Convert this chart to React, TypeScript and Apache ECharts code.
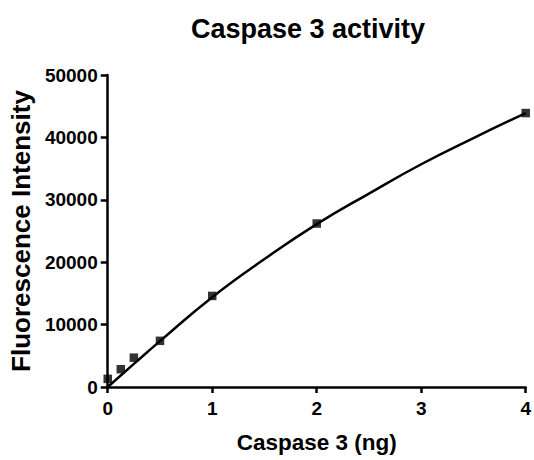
import React, { useEffect, useRef } from "react";
import * as echarts from "echarts";

const chartTitle = "Caspase 3 activity";
const xAxisTitle = "Caspase 3 (ng)";
const yAxisTitle = "Fluorescence Intensity";

// measured points
const doseNg = [0, 0.125, 0.25, 0.5, 1, 2, 4];
const fluorescence = [1300, 2850, 4700, 7400, 14600, 26200, 43900];

// fitted curve
const fitX = [0, 0.25, 0.5, 1, 1.5, 2, 2.5, 3, 3.5, 4];
const fitY = [0, 3700, 7350, 14400, 20500, 26100, 31000, 35700, 39900, 43900];

const FONT = "'Liberation Sans', Arial, Helvetica, sans-serif";

export default function App() {
  const ref = useRef<HTMLDivElement>(null);
  useEffect(() => {
    if (!ref.current) return;
    const chart = echarts.init(ref.current, undefined, { renderer: "svg" });
    chart.setOption({
      animation: false,
      backgroundColor: "#ffffff",
      graphic: [
        {
          type: "text",
          x: 308,
          y: 29,
          style: {
            text: chartTitle,
            fontSize: 27,
            fontWeight: "bold",
            fontFamily: FONT,
            fill: "#000",
            align: "center",
            verticalAlign: "middle",
          },
        },
      ],
      grid: { left: 107, right: 3, top: 75, bottom: 73, containLabel: false },
      xAxis: {
        type: "value",
        min: 0,
        max: 4,
        interval: 1,
        name: xAxisTitle,
        nameLocation: "middle",
        nameGap: 44,
        nameTextStyle: { fontSize: 22.5, fontWeight: "bold", fontFamily: FONT, color: "#000" },
        axisLine: { show: true, onZero: false, lineStyle: { color: "#000", width: 2.5 } },
        axisTick: { show: true, length: 6, lineStyle: { color: "#000", width: 2.5 } },
        axisLabel: {
          fontSize: 19,
          fontWeight: "bold",
          fontFamily: FONT,
          color: "#000",
          margin: 12,
          formatter: (v: number) => String(v),
        },
        splitLine: { show: false },
      },
      yAxis: {
        type: "value",
        min: 0,
        max: 50000,
        interval: 10000,
        name: yAxisTitle,
        nameLocation: "middle",
        nameRotate: 90,
        nameGap: 69,
        nameTextStyle: { fontSize: 26, fontWeight: "bold", fontFamily: FONT, color: "#000" },
        axisLine: { show: true, onZero: false, lineStyle: { color: "#000", width: 2.5 } },
        axisTick: { show: true, length: 7, lineStyle: { color: "#000", width: 2.5 } },
        axisLabel: {
          fontSize: 19,
          fontWeight: "bold",
          fontFamily: FONT,
          color: "#000",
          margin: 10,
          formatter: (v: number) => String(v),
        },
        splitLine: { show: false },
      },
      series: [
        {
          type: "line",
          data: fitX.map((x, i) => [x, fitY[i]]),
          smooth: true,
          showSymbol: false,
          lineStyle: { color: "#000", width: 2.5 },
          z: 2,
        },
        {
          type: "scatter",
          data: doseNg.map((x, i) => [x, fluorescence[i]]),
          symbol: "rect",
          symbolSize: 8.5,
          itemStyle: { color: "#000" },
          z: 3,
        },
      ],
    });
    return () => chart.dispose();
  }, []);
  return (
    <div
      ref={ref}
      style={{ position: "fixed", left: 0, top: 0, width: 534, height: 460, background: "#fff" }}
    />
  );
}
